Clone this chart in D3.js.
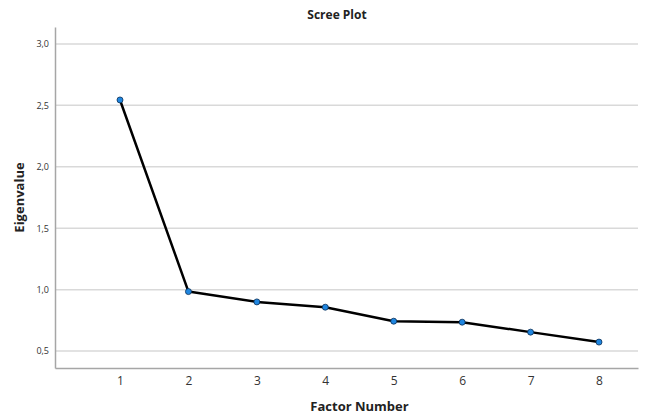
<!DOCTYPE html>
<html>
<head>
<meta charset="utf-8">
<script src="https://cdn.jsdelivr.net/npm/d3@7"></script>
<style>
  body { margin: 0; background: #fff; }
  text { font-family: "Open Sans", "DejaVu Sans", sans-serif; }
</style>
</head>
<body>
<svg id="chart" width="652" height="417"></svg>
<script>
var factors = [1, 2, 3, 4, 5, 6, 7, 8];
var eigenvalues = [2.544, 0.984, 0.90, 0.857, 0.743, 0.735, 0.654, 0.573];
var yTicks = [0.5, 1.0, 1.5, 2.0, 2.5, 3.0];

var margin = {top: 27, right: 14, bottom: 49, left: 55},
    width = 652 - margin.left - margin.right,
    height = 417 - margin.top - margin.bottom;

var svg = d3.select("#chart");
var g = svg.append("g")
    .attr("transform", "translate(" + margin.left + "," + margin.top + ")");

var x = d3.scaleLinear()
    .domain([0.05, 8.57])
    .range([0, width]);
var y = d3.scaleLinear()
    .domain([0.362, 3.138])
    .range([height, 0]);

var fmt = function (d) { return d3.format(".1f")(d).replace(".", ","); };

// gridlines
g.selectAll(".grid")
    .data(yTicks)
    .enter()
    .append("line")
    .attr("x1", 0)
    .attr("x2", width)
    .attr("y1", function (d) { return y(d); })
    .attr("y2", function (d) { return y(d); })
    .attr("stroke", "#d9d9d9")
    .attr("stroke-width", 1.5);

// y axis
var yAxis = g.append("g")
    .call(d3.axisLeft(y).tickValues(yTicks).tickFormat(fmt).tickSize(0).tickPadding(6));
yAxis.select(".domain").attr("stroke", "#a6a6a6").attr("stroke-width", 1.5);
yAxis.selectAll("text").attr("font-size", 9).attr("fill", "#333");

// x axis
var xAxis = g.append("g")
    .attr("transform", "translate(0," + height + ")")
    .call(d3.axisBottom(x).tickValues(factors).tickFormat(d3.format("d")).tickSize(0).tickPadding(8));
xAxis.select(".domain").attr("stroke", "#a6a6a6").attr("stroke-width", 1.5);
xAxis.selectAll("text").attr("font-size", 12).attr("fill", "#333");

// line
var line = d3.line()
    .x(function (d, i) { return x(factors[i]); })
    .y(function (d) { return y(d); });

g.append("path")
    .datum(eigenvalues)
    .attr("fill", "none")
    .attr("stroke", "#000")
    .attr("stroke-width", 2.5)
    .attr("stroke-linejoin", "round")
    .attr("d", line);

g.selectAll(".pt")
    .data(eigenvalues)
    .enter()
    .append("circle")
    .attr("cx", function (d, i) { return x(factors[i]); })
    .attr("cy", function (d) { return y(d); })
    .attr("r", 3)
    .attr("fill", "#1f86e0")
    .attr("stroke", "#0b2f55")
    .attr("stroke-width", 0.8);

// titles
svg.append("text")
    .attr("x", 337)
    .attr("y", 19)
    .attr("text-anchor", "middle")
    .attr("font-size", 12)
    .attr("font-weight", "bold")
    .attr("fill", "#222")
    .text("Scree Plot");

svg.append("text")
    .attr("x", margin.left + x(4.5))
    .attr("y", 411)
    .attr("text-anchor", "middle")
    .attr("font-size", 13)
    .attr("font-weight", "bold")
    .attr("fill", "#222")
    .text("Factor Number");

svg.append("text")
    .attr("transform", "translate(24," + (margin.top + y(1.75)) + ") rotate(-90)")
    .attr("text-anchor", "middle")
    .attr("font-size", 13)
    .attr("font-weight", "bold")
    .attr("fill", "#222")
    .text("Eigenvalue");
</script>
</body>
</html>
